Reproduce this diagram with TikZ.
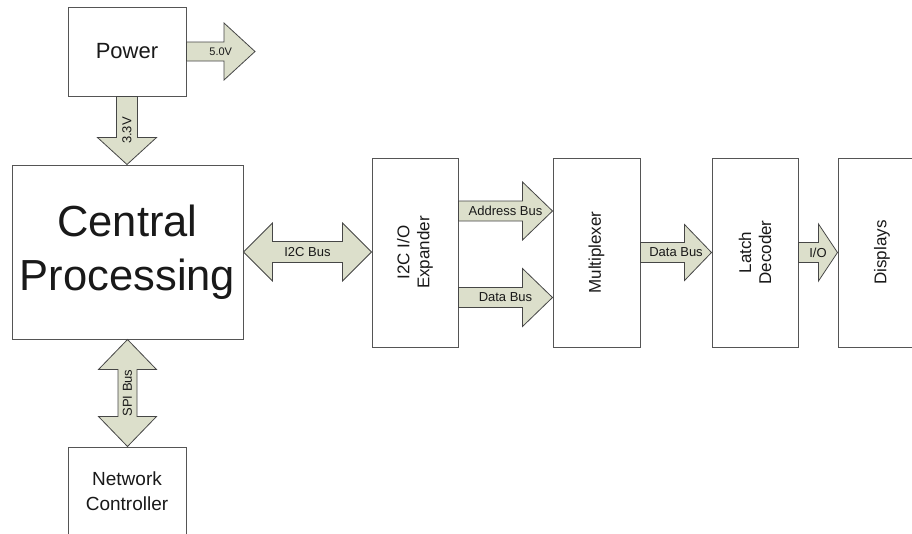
\documentclass[tikz,border=0pt]{standalone}
\usepackage{fontspec}
\setmainfont{Liberation Sans}
\usetikzlibrary{calc}
\definecolor{busfill}{RGB}{220,223,203}
\definecolor{busline}{RGB}{70,70,70}
\definecolor{boxline}{RGB}{85,85,85}
\definecolor{txt}{RGB}{25,25,25}
\tikzset{
  block/.style={draw=boxline, line width=1pt, fill=white, inner sep=0pt, align=center, text=txt},
  vblock/.style={block, minimum height=189pt},
  vtext/.style={rotate=90, align=center, font=\fontsize{17}{20}\selectfont, text=txt},
  busarrow/.style={draw=busline, fill=busfill, line width=0.8pt, line join=miter},
  buslabel/.style={font=\fontsize{13}{15}\selectfont, text=txt, inner sep=0pt},
}
% right arrow: #1 start, #2 tip (x), #3 shaft half width, #4 head half width, #5 head length, #6 label
\newcommand\ArrR[6]{%
  \draw[busarrow] let \p1=(#1), \p2=(#2) in
   (\x1,\y1+#3pt) -- (\x2-#5pt,\y1+#3pt) -- (\x2-#5pt,\y1+#4pt) -- (\x2,\y1)
   -- (\x2-#5pt,\y1-#4pt) -- (\x2-#5pt,\y1-#3pt) -- (\x1,\y1-#3pt) -- cycle
   ({(\x1+\x2)/2},\y1) node[buslabel] {#6};}
% down arrow
\newcommand\ArrD[6]{%
  \draw[busarrow] let \p1=(#1), \p2=(#2) in
   (\x1-#3pt,\y1) -- (\x1-#3pt,\y2+#5pt) -- (\x1-#4pt,\y2+#5pt) -- (\x1,\y2)
   -- (\x1+#4pt,\y2+#5pt) -- (\x1+#3pt,\y2+#5pt) -- (\x1+#3pt,\y1) -- cycle
   (\x1,{(\y1+\y2)/2}) node[buslabel, rotate=90] {#6};}
% left-right double arrow
\newcommand\ArrLR[6]{%
  \draw[busarrow] let \p1=(#1), \p2=(#2) in
   (\x1,\y1) -- (\x1+#5pt,\y1+#4pt) -- (\x1+#5pt,\y1+#3pt) -- (\x2-#5pt,\y1+#3pt)
   -- (\x2-#5pt,\y1+#4pt) -- (\x2,\y1) -- (\x2-#5pt,\y1-#4pt) -- (\x2-#5pt,\y1-#3pt)
   -- (\x1+#5pt,\y1-#3pt) -- (\x1+#5pt,\y1-#4pt) -- cycle
   ({(\x1+\x2)/2},\y1) node[buslabel] {#6};}
% up-down double arrow
\newcommand\ArrUD[6]{%
  \draw[busarrow] let \p1=(#1), \p2=(#2) in
   (\x1,\y1) -- (\x1+#4pt,\y1-#5pt) -- (\x1+#3pt,\y1-#5pt) -- (\x1+#3pt,\y2+#5pt)
   -- (\x1+#4pt,\y2+#5pt) -- (\x1,\y2) -- (\x1-#4pt,\y2+#5pt) -- (\x1-#3pt,\y2+#5pt)
   -- (\x1-#3pt,\y1-#5pt) -- (\x1-#4pt,\y1-#5pt) -- cycle
   (\x1,{(\y1+\y2)/2}) node[buslabel, rotate=90] {#6};}
\begin{document}
\begin{tikzpicture}[x=1pt, y=-1pt]
\useasboundingbox (0,0) rectangle (912,533);
\fill[white] (0,0) rectangle (912,533);

\node[block, minimum width=118pt, minimum height=89pt, font=\fontsize{22}{26}\selectfont] (power) at (127,51.5) {Power};
\node[block, minimum width=231pt, minimum height=174pt, font=\fontsize{43.5}{54}\selectfont] (central) at (127.5,252) {Central\\Processing};
\node[block, minimum width=118pt, minimum height=88pt, font=\fontsize{19}{25}\selectfont] (network) at (127,491) {Network\\Controller};
\node[vblock, minimum width=86pt] (expander) at (415,252.5) {};
\node[vtext] at (expander) {I2C I/O\\Expander};
\node[vblock, minimum width=87pt] (mux) at (596.5,252.5) {};
\node[vtext] at (mux) {Multiplexer};
\node[vblock, minimum width=86pt] (latch) at (755,252.5) {};
\node[vtext] at (latch) {Latch\\Decoder};
\node[vblock, minimum width=88pt] (displays) at (882,252.5) {};
\node[vtext] at (displays) {Displays};

\coordinate (v5) at (255,51.5);
\coordinate (addr) at ($(expander.east)+(0,-41.5)$);
\coordinate (data) at ($(expander.east)+(0,45)$);

\ArrR{power.east}{v5}{9.5}{28.5}{31}{\fontsize{11}{13}\selectfont 5.0V}
\ArrD{power.south}{central.north}{10.5}{29.5}{27}{3.3V}
\ArrLR{central.east}{expander.west}{10.5}{29}{29}{I2C Bus}
\ArrR{addr}{mux.west}{10}{29}{30}{Address Bus}
\ArrR{data}{mux.west}{10}{29}{30}{Data Bus}
\ArrR{mux.east}{latch.west}{10}{28}{27}{Data Bus}
\ArrR{latch.east}{displays.west}{10}{28.5}{19}{I/O}
\ArrUD{central.south}{network.north}{9.5}{29}{30}{SPI Bus}
\end{tikzpicture}
\end{document}
